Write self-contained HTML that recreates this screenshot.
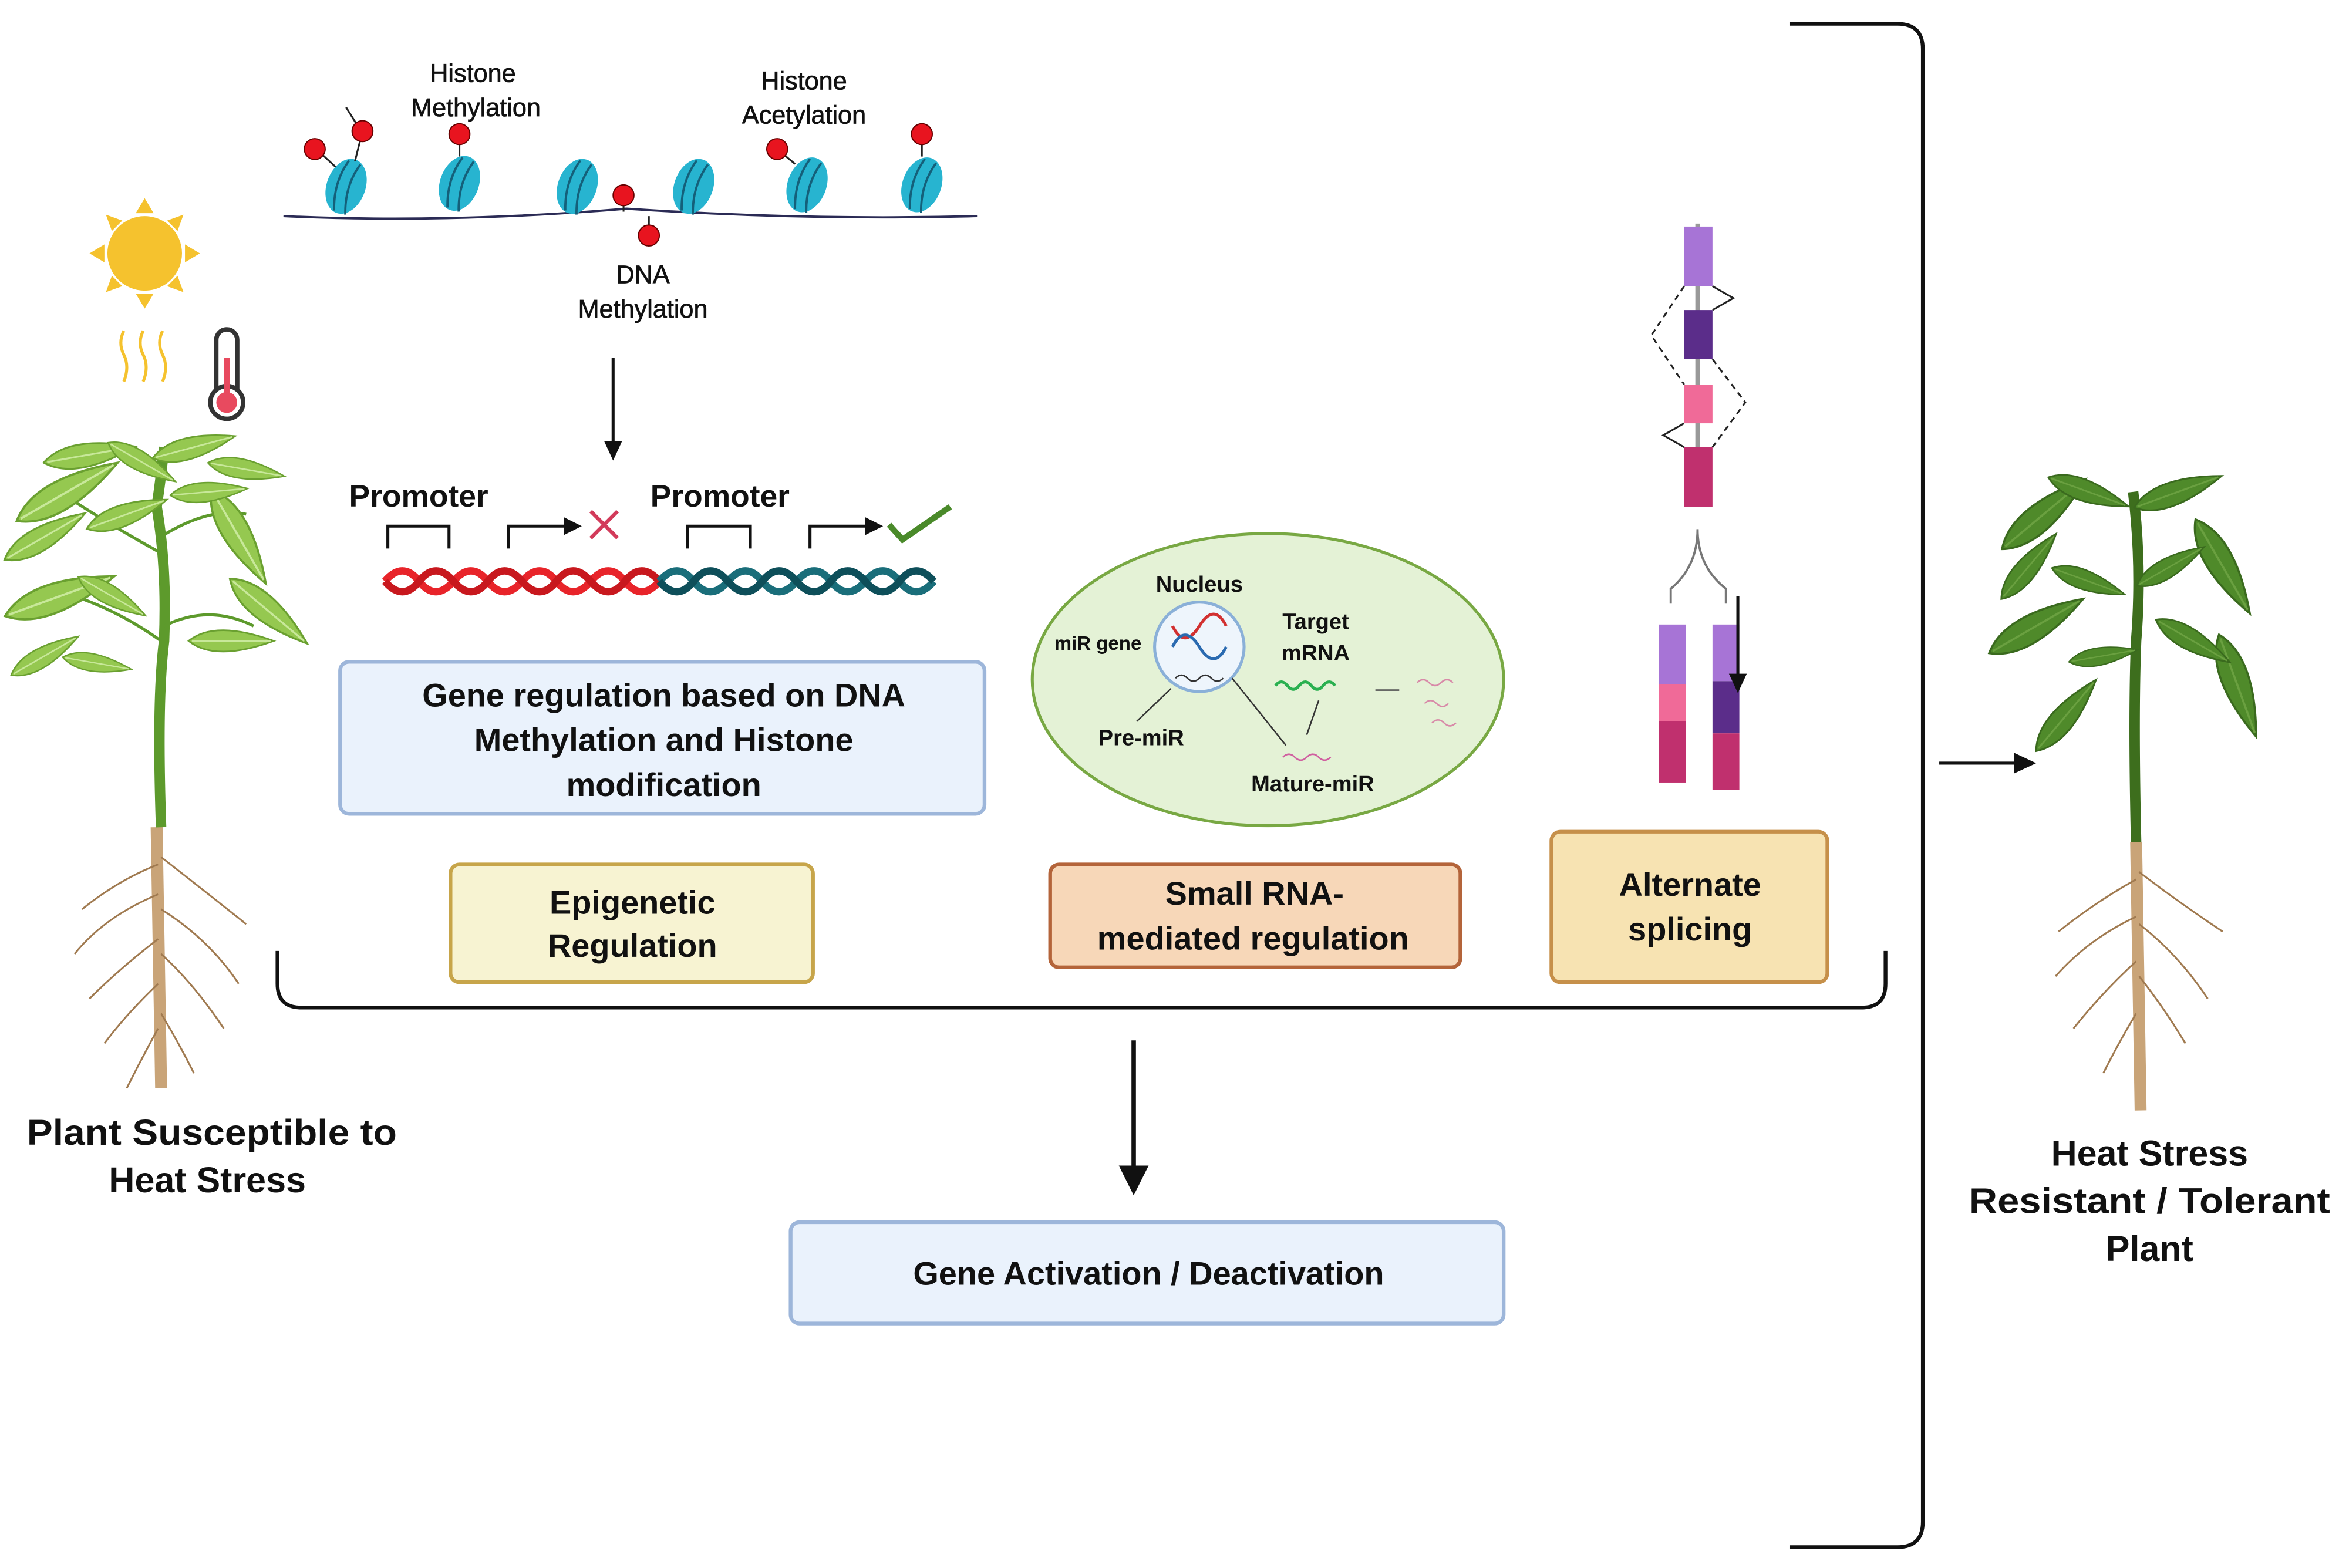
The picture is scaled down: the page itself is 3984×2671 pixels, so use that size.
<!DOCTYPE html>
<html><head><meta charset="utf-8"><style>
html,body{margin:0;padding:0;background:#fff;}
svg{display:block;}
text{font-family:"Liberation Sans",sans-serif;font-weight:bold;fill:#111;}
</style></head><body>
<svg width="3984" height="2671" viewBox="0 0 1568 1052" preserveAspectRatio="none" xmlns="http://www.w3.org/2000/svg">
<defs>
<g id="nuc"><ellipse cx="0" cy="0" rx="13" ry="19" fill="#27b4d0" transform="rotate(20)"/><path d="M-4,-17 Q-9,0 -2,18 M4,-17 Q-1,0 6,18" stroke="#14607a" stroke-width="1.5" fill="none" transform="rotate(20)"/></g>
<g id="leafL"><path d="M-26,0 Q-10,-13 26,0 Q-10,13 -26,0z" fill="#95c850" stroke="#6aa030" stroke-width="1"/><line x1="-24" y1="0" x2="24" y2="0" stroke="#c8e89a" stroke-width="1"/></g>
<g id="leafR"><path d="M-26,0 Q-10,-13 26,0 Q-10,13 -26,0z" fill="#4f8a2a" stroke="#3a6a1e" stroke-width="1"/><line x1="-24" y1="0" x2="24" y2="0" stroke="#6aa040" stroke-width="1"/></g>
</defs>

<path d="M1200,16 H1272 Q1289,16 1289,33 V1021 Q1289,1038 1272,1038 H1200" fill="none" stroke="#111" stroke-width="2.5"/>
<path d="M186,638 V660 Q186,676 202,676 H1248 Q1264,676 1264,660 V638" fill="none" stroke="#111" stroke-width="2.5"/>
<line x1="760" y1="698" x2="760" y2="790" stroke="#111" stroke-width="3"/>
<path d="M750,782 L770,782 L760,802 z" fill="#111"/>
<line x1="1300" y1="512" x2="1352" y2="512" stroke="#111" stroke-width="2"/>
<path d="M1350,505 L1365,512 L1350,519 z" fill="#111"/>
<line x1="411" y1="240" x2="411" y2="300" stroke="#111" stroke-width="2"/>
<path d="M405,296 L417,296 L411,309 z" fill="#111"/>

<circle cx="97" cy="170" r="25" fill="#f5c22e"/>
<g fill="#f5c22e">
<path d="M97,133 l-6,10 h12z"/><path d="M97,207 l-6,-10 h12z"/><path d="M60,170 l10,-6 v12z"/><path d="M134,170 l-10,-6 v12z"/>
<path d="M71,144 l4,11 l7,-7z"/><path d="M123,144 l-4,11 l-7,-7z"/><path d="M71,196 l4,-11 l7,7z"/><path d="M123,196 l-4,-11 l-7,7z"/>
</g>
<g stroke="#f5c22e" stroke-width="2" fill="none">
<path d="M83,222 q-4,8 0,16 q4,8 0,18"/><path d="M96,222 q-4,8 0,16 q4,8 0,18"/><path d="M109,222 q-4,8 0,16 q4,8 0,18"/>
</g>
<rect x="145" y="221" width="14" height="50" rx="7" fill="#fff" stroke="#333" stroke-width="3"/>
<circle cx="152" cy="270" r="11" fill="#fff" stroke="#333" stroke-width="3"/>
<circle cx="152" cy="270" r="7" fill="#e84a5f"/>
<rect x="150" y="240" width="4" height="28" fill="#e84a5f"/>

<!-- left plant -->
<g>
<path d="M105,555 L108,730" stroke="#c9a478" stroke-width="8"/>
<g stroke="#a07a50" stroke-width="1.2" fill="none">
<path d="M106,580 Q80,590 55,610"/><path d="M106,600 Q70,615 50,640"/><path d="M106,630 Q80,650 60,670"/><path d="M106,660 Q85,680 70,700"/><path d="M106,690 Q95,710 85,730"/>
<path d="M108,575 Q140,600 165,620"/><path d="M108,610 Q140,630 160,660"/><path d="M108,640 Q130,660 150,690"/><path d="M108,680 Q120,700 130,720"/>
</g>
<path d="M108,555 Q105,470 110,430 Q112,380 105,340 Q108,320 110,300" stroke="#5d9a2c" stroke-width="7" fill="none"/>
<g stroke="#5d9a2c" stroke-width="2" fill="none"><path d="M108,430 Q80,410 50,400"/><path d="M110,420 Q140,405 170,420"/><path d="M106,370 Q70,350 40,330"/><path d="M108,360 Q140,340 165,345"/><path d="M110,320 Q90,300 60,300"/></g>
<use href="#leafL" transform="translate(45,330) rotate(-30) scale(1.5)"/>
<use href="#leafL" transform="translate(40,400) rotate(-20) scale(1.5)"/>
<use href="#leafL" transform="translate(30,360) rotate(-30) scale(1.2)"/>
<use href="#leafL" transform="translate(60,305) rotate(-10) scale(1.2)"/>
<use href="#leafL" transform="translate(95,310) rotate(30) scale(1)"/>
<use href="#leafL" transform="translate(130,300) rotate(-15) scale(1.1)"/>
<use href="#leafL" transform="translate(165,315) rotate(10) scale(1)"/>
<use href="#leafL" transform="translate(160,360) rotate(60) scale(1.4)"/>
<use href="#leafL" transform="translate(180,410) rotate(40) scale(1.3)"/>
<use href="#leafL" transform="translate(155,430) rotate(0) scale(1.1)"/>
<use href="#leafL" transform="translate(75,400) rotate(30) scale(1)"/>
<use href="#leafL" transform="translate(85,345) rotate(-20) scale(1.1)"/>
<use href="#leafL" transform="translate(140,330) rotate(-5) scale(1)"/>
<use href="#leafL" transform="translate(30,440) rotate(-30) scale(1)"/>
<use href="#leafL" transform="translate(65,445) rotate(10) scale(0.9)"/>
</g>

<!-- right plant -->
<g>
<path d="M1432,565 L1435,745" stroke="#c9a478" stroke-width="8"/>
<g stroke="#a07a50" stroke-width="1.2" fill="none">
<path d="M1432,590 Q1405,605 1380,625"/><path d="M1432,615 Q1400,630 1378,655"/><path d="M1432,645 Q1410,665 1390,690"/><path d="M1432,680 Q1420,700 1410,720"/>
<path d="M1434,585 Q1460,605 1490,625"/><path d="M1434,620 Q1460,640 1480,670"/><path d="M1434,655 Q1450,675 1465,700"/>
</g>
<path d="M1432,565 Q1430,480 1432,430 Q1436,380 1430,330" stroke="#3d6e1d" stroke-width="7" fill="none"/>
<use href="#leafR" transform="translate(1370,345) rotate(-40) scale(1.4)"/>
<use href="#leafR" transform="translate(1365,420) rotate(-30) scale(1.4)"/>
<use href="#leafR" transform="translate(1360,380) rotate(-50) scale(1.1)"/>
<use href="#leafR" transform="translate(1400,330) rotate(20) scale(1.1)"/>
<use href="#leafR" transform="translate(1460,330) rotate(-20) scale(1.2)"/>
<use href="#leafR" transform="translate(1490,380) rotate(60) scale(1.4)"/>
<use href="#leafR" transform="translate(1500,460) rotate(70) scale(1.4)"/>
<use href="#leafR" transform="translate(1385,480) rotate(-50) scale(1.2)"/>
<use href="#leafR" transform="translate(1470,430) rotate(30) scale(1.1)"/>
<use href="#leafR" transform="translate(1400,390) rotate(20) scale(1)"/>
<use href="#leafR" transform="translate(1455,380) rotate(-30) scale(1)"/>
<use href="#leafR" transform="translate(1410,440) rotate(-10) scale(0.9)"/>
</g>

<path d="M190,145 Q300,150 420,140 Q540,148 655,145" stroke="#2b2b55" stroke-width="1.5" fill="none"/>
<use href="#nuc" transform="translate(232,125)"/>
<use href="#nuc" transform="translate(308,123)"/>
<use href="#nuc" transform="translate(387,125)"/>
<use href="#nuc" transform="translate(465,125)"/>
<use href="#nuc" transform="translate(541,124)"/>
<use href="#nuc" transform="translate(618,124)"/>
<g stroke="#222" stroke-width="1.2"><line x1="212" y1="100" x2="225" y2="112"/><line x1="232" y1="72" x2="242" y2="88"/><line x1="243" y1="88" x2="238" y2="108"/><line x1="308" y1="90" x2="308" y2="105"/><line x1="418" y1="131" x2="418" y2="142"/><line x1="435" y1="145" x2="435" y2="158"/><line x1="521" y1="100" x2="533" y2="110"/><line x1="618" y1="90" x2="618" y2="105"/></g>
<g fill="#e8141f" stroke="#600" stroke-width="0.8"><circle cx="211" cy="100" r="7"/><circle cx="243" cy="88" r="7"/><circle cx="308" cy="90" r="7"/><circle cx="418" cy="131" r="7"/><circle cx="435" cy="158" r="7"/><circle cx="521" cy="100" r="7"/><circle cx="618" cy="90" r="7"/></g>
<g font-size="17" text-anchor="middle">
<text x="317" y="55" style="font-weight:normal" stroke="#111" stroke-width="0.3">Histone</text><text x="319" y="78" style="font-weight:normal" stroke="#111" stroke-width="0.3">Methylation</text>
<text x="539" y="60" style="font-weight:normal" stroke="#111" stroke-width="0.3">Histone</text><text x="539" y="83" style="font-weight:normal" stroke="#111" stroke-width="0.3">Acetylation</text>
<text x="431" y="190" style="font-weight:normal" stroke="#111" stroke-width="0.3">DNA</text><text x="431" y="213" style="font-weight:normal" stroke="#111" stroke-width="0.3">Methylation</text>
</g>

<text x="234" y="340" font-size="21">Promoter</text>
<text x="436" y="340" font-size="21">Promoter</text>
<g stroke="#111" stroke-width="2" fill="none">
<path d="M260,368 V353 H301 V368"/><path d="M341,368 V353 H380"/>
<path d="M461,368 V353 H503 V368"/><path d="M543,368 V353 H582"/>
</g>
<path d="M378,347 L390,353 L378,359z" fill="#111"/><path d="M580,347 L592,353 L580,359z" fill="#111"/>
<path d="M396,343 L414,361 M414,343 L396,361" stroke="#d23a5a" stroke-width="2.5"/>
<path d="M596,352 L605,362 L637,340" stroke="#4a8a2a" stroke-width="4" fill="none"/>
<g fill="none" stroke-width="5">
<path d="M258,390 q12,-14 23,0 t23,0 t23,0 t23,0 t23,0 t23,0 t23,0 t23,0" stroke="#e8242a"/>
<path d="M258,390 q12,14 23,0 t23,0 t23,0 t23,0 t23,0 t23,0 t23,0 t23,0" stroke="#c8181e"/>
<path d="M442,390 q12,-14 23,0 t23,0 t23,0 t23,0 t23,0 t23,0 t23,0 t23,0" stroke="#1a6e7a"/>
<path d="M442,390 q12,14 23,0 t23,0 t23,0 t23,0 t23,0 t23,0 t23,0 t23,0" stroke="#0e4f5a"/>
</g>

<rect x="228" y="444" width="432" height="102" rx="6" fill="#eaf2fc" stroke="#9db6da" stroke-width="2.5"/>
<g font-size="22" text-anchor="middle"><text x="445" y="474">Gene regulation based on DNA</text><text x="445" y="504">Methylation and Histone</text><text x="445" y="534">modification</text></g>
<rect x="302" y="580" width="243" height="79" rx="6" fill="#f7f3d2" stroke="#c7a54a" stroke-width="2.5"/>
<g font-size="22" text-anchor="middle"><text x="424" y="613">Epigenetic</text><text x="424" y="642">Regulation</text></g>
<rect x="704" y="580" width="275" height="69" rx="6" fill="#f7d7b8" stroke="#b4643a" stroke-width="2.5"/>
<g font-size="22" text-anchor="middle"><text x="841" y="607">Small RNA-</text><text x="840" y="637">mediated regulation</text></g>
<rect x="1040" y="558" width="185" height="101" rx="6" fill="#f7e3b2" stroke="#c6904a" stroke-width="2.5"/>
<g font-size="22" text-anchor="middle"><text x="1133" y="601">Alternate</text><text x="1133" y="631">splicing</text></g>
<rect x="530" y="820" width="478" height="68" rx="6" fill="#eaf2fc" stroke="#9db6da" stroke-width="2.5"/>
<text x="770" y="862" font-size="22" text-anchor="middle">Gene Activation / Deactivation</text>

<ellipse cx="850" cy="456" rx="158" ry="98" fill="#e4f2d6" stroke="#78a843" stroke-width="2"/>
<circle cx="804" cy="434" r="30" fill="#eef5fc" stroke="#8ab0d8" stroke-width="2"/>
<path d="M786,420 q8,16 18,0 t18,0" stroke="#d23030" stroke-width="2" fill="none"/><path d="M786,434 q8,-16 18,0 t18,0" stroke="#2a6ab0" stroke-width="2" fill="none"/>
<path d="M788,455 q4,-4 8,0 t8,0 t8,0 t8,0" stroke="#333" stroke-width="1" fill="none"/>
<g font-size="15" text-anchor="middle"><text x="804" y="397">Nucleus</text><text x="882" y="422">Target</text><text x="882" y="443">mRNA</text><text x="765" y="500">Pre-miR</text><text x="880" y="531">Mature-miR</text></g>
<text x="736" y="436" font-size="13" text-anchor="middle">miR gene</text>
<path d="M855,460 q4,-5 8,0 t8,0 t8,0 t8,0 t8,0" stroke="#2ab050" stroke-width="2" fill="none"/>
<line x1="922" y1="463" x2="938" y2="463" stroke="#555" stroke-width="1"/>
<path d="M950,458 q4,-4 8,0 t8,0 t8,0 M955,472 q4,-4 8,0 t8,0 M960,485 q4,-4 8,0 t8,0" stroke="#d88aa8" stroke-width="1" fill="none"/>
<path d="M860,508 q4,-4 8,0 t8,0 t8,0 t8,0" stroke="#d060a0" stroke-width="1" fill="none"/>
<g stroke="#333" stroke-width="1"><line x1="785" y1="462" x2="762" y2="484"/><line x1="826" y1="455" x2="862" y2="500"/><line x1="876" y1="493" x2="884" y2="470"/></g>

<line x1="1138" y1="150" x2="1138" y2="340" stroke="#999" stroke-width="3"/>
<rect x="1129" y="152" width="19" height="40" fill="#a774d6"/>
<rect x="1129" y="208" width="19" height="33" fill="#5b2d8a"/>
<rect x="1129" y="258" width="19" height="26" fill="#f06a98"/>
<rect x="1129" y="300" width="19" height="40" fill="#c0306e"/>
<path d="M1148,192 L1162,200 L1148,208" fill="none" stroke="#222" stroke-width="1.2"/>
<path d="M1129,284 L1115,292 L1129,300" fill="none" stroke="#222" stroke-width="1.2"/>
<path d="M1129,192 L1107,225 L1129,258 M1148,241 L1170,270 L1148,300" fill="none" stroke="#222" stroke-width="1.2" stroke-dasharray="4,3"/>
<path d="M1138,355 Q1138,380 1120,395 V405 M1138,355 Q1138,380 1157,395 V405" stroke="#777" stroke-width="1.5" fill="none"/>
<rect x="1112" y="419" width="18" height="40" fill="#a774d6"/>
<rect x="1112" y="459" width="18" height="25" fill="#f06a98"/>
<rect x="1112" y="484" width="18" height="41" fill="#c0306e"/>
<rect x="1148" y="419" width="18" height="38" fill="#a774d6"/>
<rect x="1148" y="457" width="18" height="35" fill="#5b2d8a"/>
<rect x="1148" y="492" width="18" height="38" fill="#c0306e"/>
<line x1="1165" y1="400" x2="1165" y2="455" stroke="#111" stroke-width="2"/>
<path d="M1159,452 L1171,452 L1165,465z" fill="#111"/>

<g font-size="24" text-anchor="middle">
<text x="142" y="768" textLength="248" lengthAdjust="spacingAndGlyphs">Plant Susceptible to</text><text x="139" y="800">Heat Stress</text>
<text x="1441" y="782">Heat Stress</text><text x="1441" y="814" textLength="242" lengthAdjust="spacingAndGlyphs">Resistant / Tolerant</text><text x="1441" y="846">Plant</text>
</g>
</svg>
</body></html>
